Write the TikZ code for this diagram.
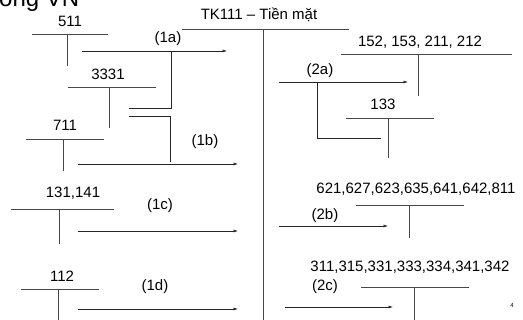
\documentclass[tikz,border=0pt]{standalone}
\usepackage{fontspec}
\setmainfont{Liberation Sans}
\usetikzlibrary{arrows.meta}
\begin{document}
\begin{tikzpicture}[x=1pt,y=-1pt,
  lbl/.style={anchor=base, inner sep=0pt, font=\fontsize{15}{17}\selectfont},
  tline/.style={draw=black!72, line width=0.9pt},
  link/.style={draw=black!85, line width=0.8pt},
  flow/.style={draw=black!85, line width=0.6pt, -{Latex[length=4.5pt,width=3pt]}}]
\useasboundingbox (0,0) rectangle (523,320);
\clip (0,0) rectangle (523,320);

% heading fragment at the top edge
\node[anchor=base west, inner sep=0pt, font=\fontsize{24}{28}\selectfont] (head) at (-1,7) {ong VN};

% main account TK111
\node[lbl] (tk) at (259,20) {TK111 – Tiền mặt};
\draw[tline] (182,29) -- (349,29);
\draw[tline] (263,29) -- (263,320);

% debit side accounts
\node[lbl] (a511) at (70,27) {511};
\draw[tline] (32,34) -- (108,34);
\draw[tline] (67,34) -- (67,66);

\node[lbl] (a3331) at (108,80) {3331};
\draw[tline] (68,87) -- (156,87);
\draw[tline] (109,87) -- (109,128);

\node[lbl] (a711) at (65,131) {711};
\draw[tline] (26,139) -- (104,139);
\draw[tline] (63,139) -- (63,171);

\node[lbl] (a131) at (73,198) {131,141};
\draw[tline] (11,209) -- (114,209);
\draw[tline] (59,209) -- (59,244);

\node[lbl] (a112) at (62,282) {112};
\draw[tline] (21,289) -- (99,289);
\draw[tline] (58,289) -- (58,320);

% debit flows
\coordinate (s1a) at (82,51);  \coordinate (e1a) at (227,51);
\coordinate (s1b) at (78,164); \coordinate (e1b) at (238,164);
\coordinate (s1c) at (78,231); \coordinate (e1c) at (238,231);
\coordinate (s1d) at (78,309); \coordinate (e1d) at (238,309);
\draw[flow] (s1a) -- (e1a);
\draw[flow] (s1b) -- (e1b);
\draw[flow] (s1c) -- (e1c);
\draw[flow] (s1d) -- (e1d);
\node[lbl] (l1a) at (168,43) {(1a)};
\node[lbl] (l1b) at (205,146) {(1b)};
\node[lbl] (l1c) at (160,210) {(1c)};
\node[lbl] (l1d) at (155,291) {(1d)};

% brackets joining 3331 to flows (1a) and (1b)
\coordinate (b1) at (129,108); \coordinate (b1t) at (171,51);
\coordinate (b2) at (129,116); \coordinate (b2t) at (170,162);
\draw[link] (b1) -- (b1 -| b1t) -- (b1t);
\draw[link] (b2) -- (b2 -| b2t) -- (b2t);

% credit side accounts
\node[lbl] (a152) at (420,47) {152, 153, 211, 212};
\draw[tline] (341,54) -- (512,54);
\draw[tline] (418,54) -- (418,96);

\node[lbl] (a133) at (383,110) {133};
\draw[tline] (346,118) -- (434,118);
\draw[tline] (388,118) -- (388,158);

\node[lbl] (a621) at (416,194) {621,627,623,635,641,642,811};
\draw[tline] (356,205) -- (464,205);
\draw[tline] (409,205) -- (409,238);

\node[lbl] (a311) at (410,272) {311,315,331,333,334,341,342};
\draw[tline] (361,287) -- (469,287);
\draw[tline] (414,287) -- (414,320);

% credit flows
\coordinate (s2a) at (279,82);  \coordinate (e2a) at (408,82);
\coordinate (s2b) at (279,226); \coordinate (e2b) at (388,226);
\coordinate (s2c) at (285,307); \coordinate (e2c) at (393,307);
\draw[flow] (s2a) -- (e2a);
\draw[flow] (s2b) -- (e2b);
\draw[flow] (s2c) -- (e2c);
\node[lbl] (l2a) at (320,75) {(2a)};
\node[lbl] (l2b) at (325,220) {(2b)};
\node[lbl] (l2c) at (325,291) {(2c)};

% bracket from flow (2a) to 133
\coordinate (b3t) at (317,82); \coordinate (b3) at (381,138);
\draw[link] (b3t) -- (b3t |- b3) -- (b3);

% page number
\node[anchor=base, inner sep=0pt, font=\fontsize{6}{7}\selectfont] (pg) at (512,308) {4};
\end{tikzpicture}
\end{document}
